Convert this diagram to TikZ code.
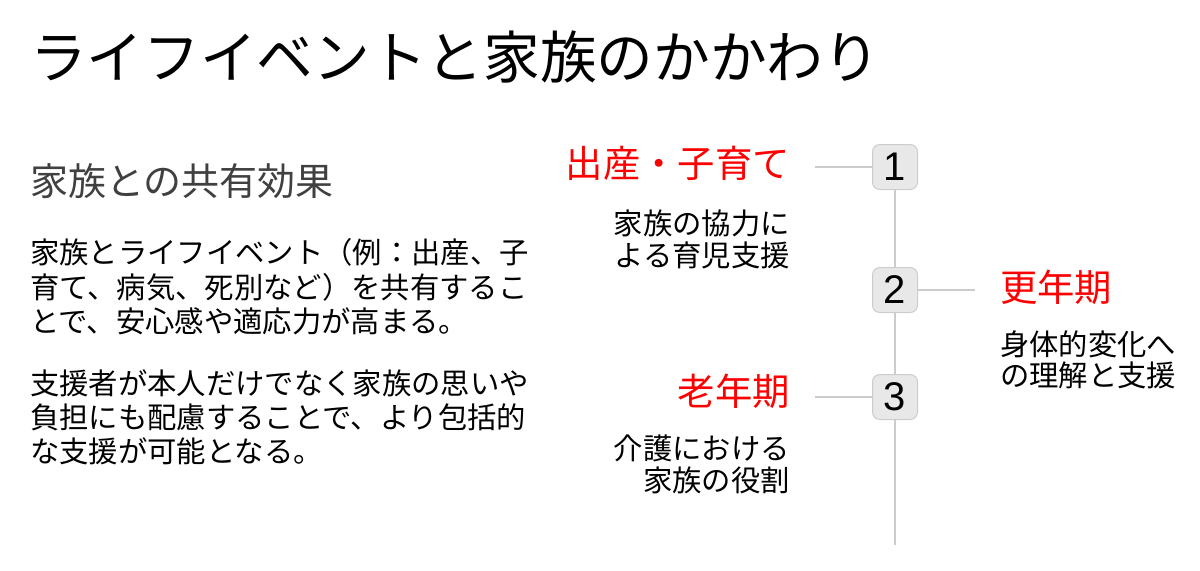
\documentclass[tikz,border=0pt]{standalone}
\usepackage{fontspec}
\newfontfamily\jp{Noto Sans CJK JP}
\newfontfamily\digitfont{Liberation Sans}
\definecolor{linegray}{HTML}{CCCCCC}
\definecolor{boxgray}{HTML}{E8E8E8}
\definecolor{eventred}{HTML}{FF0000}

\begin{document}
\begin{tikzpicture}[x=0.75pt, y=-0.75pt,
    stepnum/.style={draw=linegray, fill=boxgray, rounded corners=5.5pt,
      line width=0.75pt, minimum size=33.75pt, inner sep=0pt,
      font=\digitfont\fontsize{30pt}{30pt}\selectfont},
    eventlbl/.style={text=eventred, inner sep=0pt,
      font=\jp\fontsize{28pt}{30pt}\selectfont},
    desc/.style={inner sep=0pt, font=\jp\fontsize{22pt}{23.5pt}\selectfont},
    conn/.style={draw=linegray, line width=1.5pt}]
  % Page frame of 1200 x 571 px.
  \useasboundingbox (0,0) rectangle (1200,571);
  % Title and the left-hand explanation.
  \node[anchor=west, inner sep=0pt, font=\jp\fontsize{42.5pt}{45pt}\selectfont]
    (title) at (30,57) {ライフイベントと家族のかかわり};
  \node[anchor=west, inner sep=0pt, text=black!75,
    font=\jp\fontsize{28.5pt}{30pt}\selectfont]
    (subtitle) at (30,181) {家族との共有効果};
  \node[anchor=north west, align=left, inner sep=0pt,
    font=\jp\fontsize{22pt}{26pt}\selectfont] (para1) at (30,238)
    {家族とライフイベント（例：出産、子\\
     育て、病気、死別など）を共有するこ\\
     とで、安心感や適応力が高まる。};
  \node[anchor=north west, align=left, inner sep=0pt,
    font=\jp\fontsize{22pt}{25.5pt}\selectfont] (para2) at (30,369)
    {支援者が本人だけでなく家族の思いや\\
     負担にも配慮することで、より包括的\\
     な支援が可能となる。};
  % The three numbered steps on the timeline.
  \node[stepnum] (box1) at (895,167) {1};
  \node[stepnum] (box2) at (895,290) {2};
  \node[stepnum] (box3) at (895,397) {3};
  \coordinate (tail) at (895,545);
  \coordinate (t1) at (815,167);
  \coordinate (t2) at (975,290);
  \coordinate (t3) at (815,397);
  % Timeline and its branches.
  \draw[conn] (box1.south) -- (box2.north);
  \draw[conn] (box2.south) -- (box3.north);
  \draw[conn] (box3.south) -- (tail);
  \draw[conn] (t1) -- (box1.west);
  \draw[conn] (box2.east) -- (t2);
  \draw[conn] (t3) -- (box3.west);
  % Event labels with their notes.
  \node[eventlbl, anchor=east] (ev1) at (790,163) {出産・子育て};
  \node[desc, anchor=north east, align=right] (note1) at (790,210)
    {家族の協力に\\よる育児支援};
  \node[eventlbl, anchor=west] (ev2) at (1000,287) {更年期};
  \node[desc, anchor=north west, align=left] (note2) at (1000,330)
    {身体的変化へ\\の理解と支援};
  \node[eventlbl, anchor=east] (ev3) at (790,391) {老年期};
  \node[desc, anchor=north east, align=right] (note3) at (790,435)
    {介護における\\家族の役割};
\end{tikzpicture}
\end{document}
